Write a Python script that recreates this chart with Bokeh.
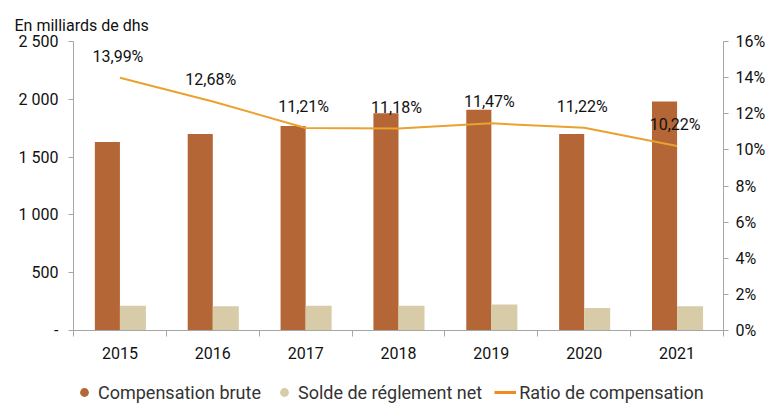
import numpy as np
from bokeh.plotting import figure
from bokeh.layouts import column
from bokeh.models import (Range1d, LinearAxis, FixedTicker, PrintfTickFormatter,
                          ColumnDataSource, Legend, LegendItem, LabelSet, Title)
from bokeh.core.properties import value
from bokeh.transform import dodge
from bokeh.embed import file_html
from bokeh.resources import INLINE

# ---- data ----
years = ["2015", "2016", "2017", "2018", "2019", "2020", "2021"]
compensation_brute = [1630, 1700, 1770, 1880, 1910, 1700, 1980]
solde_net = [215, 210, 215, 215, 225, 195, 210]
ratio = [13.99, 12.68, 11.21, 11.18, 11.47, 11.22, 10.22]

left_ticks = [0, 500, 1000, 1500, 2000, 2500]
left_labels = ["-", "500", "1 000", "1 500", "2 000", "2 500"]
right_ticks = [0, 2, 4, 6, 8, 10, 12, 14, 16]

BROWN = "#B46636"
BEIGE = "#D7CBA8"
ORANGE = "#EAA12E"
LEG_ORANGE = "#F08A1E"
AXIS = "#A6A6A6"
FONT = "Roboto"
TXT = "#111111"

xs = [i + 0.5 for i in range(len(years))]
src = ColumnDataSource(dict(
    x=xs, brute=compensation_brute, solde=solde_net, ratio=ratio,
    lab=[f"{v:.2f}".replace(".", ",") + "%" for v in ratio],
))

p = figure(frame_width=650, frame_height=289, output_backend="svg", toolbar_location=None,
           x_range=Range1d(0, len(years)), y_range=Range1d(0, 2500),
           min_border_left=73, min_border_right=48, min_border_top=41,
           min_border_bottom=40)
p.extra_y_ranges = {"pct": Range1d(0, 16)}
p.outline_line_color = None
p.xgrid.grid_line_color = None
p.ygrid.grid_line_color = None

p.title = Title(text="En milliards de dhs", align="left", offset=-59, standoff=14,
                text_font=FONT, text_font_size="16px", text_font_style="normal",
                text_color=TXT)

# bars
p.vbar(x=dodge("x", -0.135), top="brute", width=0.27, source=src,
       fill_color=BROWN, line_color=None)
p.vbar(x=dodge("x", 0.14), top="solde", width=0.28, source=src,
       fill_color=BEIGE, line_color=None)
# ratio line
p.line(x="x", y="ratio", source=src, y_range_name="pct",
       line_color=ORANGE, line_width=2)

labels = LabelSet(x="x", y="ratio", text="lab", source=src, y_range_name="pct",
                  text_align="center", text_baseline="alphabetic",
                  x_offset=-2, y_offset=16, text_font=value(FONT),
                  text_font_size=value("16px"), text_color=TXT)
p.add_layout(labels)

def style_axis(ax):
    ax.axis_line_color = AXIS
    ax.major_tick_line_color = AXIS
    ax.major_tick_out = 5
    ax.major_tick_in = 0
    ax.minor_tick_line_color = None
    ax.major_label_text_font = FONT
    ax.major_label_text_font_size = "16px"
    ax.major_label_text_color = TXT

# left axis
ya = p.yaxis[0]
ya.ticker = FixedTicker(ticks=left_ticks)
ya.major_label_overrides = {t: l for t, l in zip(left_ticks, left_labels)}
style_axis(ya)
ya.major_label_standoff = 10

# right axis
ra = LinearAxis(y_range_name="pct", ticker=FixedTicker(ticks=right_ticks),
                formatter=PrintfTickFormatter(format="%d%%"))
style_axis(ra)
ra.major_label_standoff = 7
p.add_layout(ra, "right")

# x axis (ticks between the years)
xa = p.xaxis[0]
xa.ticker = FixedTicker(ticks=xs, minor_ticks=list(range(len(years) + 1)))
xa.major_label_overrides = {x: y for x, y in zip(xs, years)}
style_axis(xa)
xa.major_tick_line_color = None
xa.major_tick_out = 0
xa.minor_tick_line_color = AXIS
xa.minor_tick_out = 6
xa.minor_tick_in = 0
xa.major_label_standoff = 10

# ---- legend strip ----
lg = figure(width=771, height=35, output_backend="svg", toolbar_location=None,
            x_range=Range1d(0, 1), y_range=Range1d(0, 1),
            min_border_left=0, min_border_right=0, min_border_top=0, min_border_bottom=0)
lg.axis.visible = False
lg.grid.grid_line_color = None
lg.outline_line_color = None
d1 = lg.scatter(x=[-5], y=[-5], marker="circle", size=11, fill_color=BROWN, line_color=None)
d2 = lg.scatter(x=[-5], y=[-5], marker="circle", size=11, fill_color=BEIGE, line_color=None)
d3 = lg.line(x=[-5, -4], y=[-5, -5], line_color=LEG_ORANGE, line_width=3)
legend = Legend(items=[
    LegendItem(label="Compensation brute", renderers=[d1]),
    LegendItem(label="Solde de réglement net", renderers=[d2]),
    LegendItem(label="Ratio de compensation", renderers=[d3]),
], orientation="horizontal", location=(0, 0),
    label_text_font=FONT, label_text_font_size="18px", label_text_color="#333333",
    glyph_width=22, glyph_height=26, label_standoff=3, spacing=12,
    border_line_color=None, background_fill_alpha=0, margin=0, padding=2)
lg.add_layout(legend, "center")

open("out.html", "w").write(file_html(column(p, lg, spacing=0), INLINE))
